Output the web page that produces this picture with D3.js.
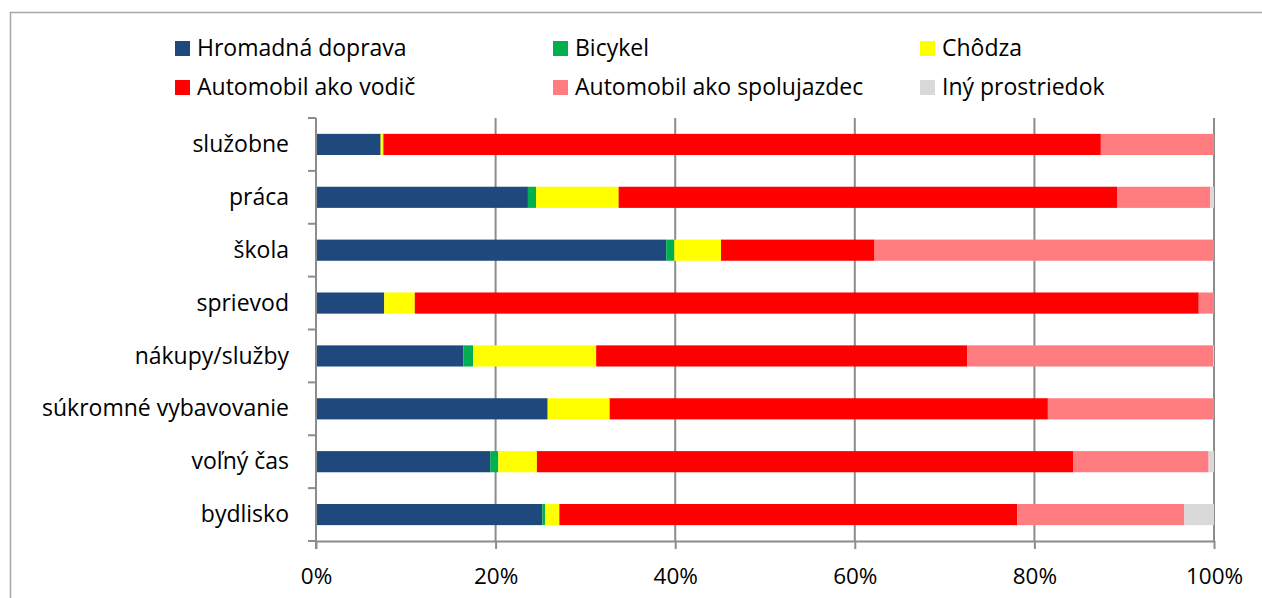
<!DOCTYPE html>
<html>
<head>
<meta charset="utf-8">
<script src="https://cdn.jsdelivr.net/npm/d3@7"></script>
<style>
  html, body { margin: 0; padding: 0; background: #fff; }
  svg { display: block; font-family: "Open Sans", Lato, sans-serif; }
</style>
</head>
<body>
<svg id="chart" width="1262" height="598"></svg>
<script>
// Trip purposes (top to bottom) and modal split shares in percent
const categories = ["služobne", "práca", "škola", "sprievod", "nákupy/služby", "súkromné vybavovanie", "voľný čas", "bydlisko"];
const seriesNames = ["Hromadná doprava", "Bicykel", "Chôdza", "Automobil ako vodič", "Automobil ako spolujazdec", "Iný prostriedok"];
const seriesColors = ["#1F497D", "#00B050", "#FFFF00", "#FF0000", "#FF7C80", "#D9D9D9"];

const hromadna    = [7.2, 23.6, 39.0, 7.6, 16.4, 25.8, 19.4, 25.2];
const bicykel     = [0.0, 0.9, 0.9, 0.0, 1.1, 0.0, 0.9, 0.3];
const chodza      = [0.3, 9.2, 5.2, 3.4, 13.7, 6.9, 4.3, 1.6];
const vodic       = [79.9, 55.5, 17.1, 87.3, 41.3, 48.8, 59.7, 51.0];
const spolujazdec = [12.6, 10.4, 37.8, 1.7, 27.4, 18.5, 15.1, 18.6];
const iny         = [0.0, 0.4, 0.0, 0.0, 0.1, 0.0, 0.6, 3.3];

const xTicks = [0, 20, 40, 60, 80, 100];
const xTickLabels = ["0%", "20%", "40%", "60%", "80%", "100%"];

const seriesValues = [hromadna, bicykel, chodza, vodic, spolujazdec, iny];
const rows = categories.map((c, i) => {
  const r = { cat: c };
  seriesNames.forEach((s, j) => { r[s] = seriesValues[j][i]; });
  return r;
});

const svg = d3.select("#chart");
const plot = { left: 316, right: 1214, top: 118, bottom: 541 };
const axisColor = "#8C8C8C";
const fontSize = 23;

// chart frame
svg.append("rect")
  .attr("x", 10.5).attr("y", 12.5)
  .attr("width", 1270).attr("height", 600)
  .attr("fill", "#fff").attr("stroke", "#A6A6A6").attr("stroke-width", 1.5);

const x = d3.scaleLinear().domain([0, 100]).range([plot.left, plot.right]);
const y = d3.scaleBand().domain(categories).range([plot.top, plot.bottom])
  .paddingInner(0.6).paddingOuter(0.3);

// vertical gridlines
svg.append("g").selectAll("line")
  .data(xTicks.filter(t => t > 0))
  .join("line")
  .attr("x1", d => x(d)).attr("x2", d => x(d))
  .attr("y1", plot.top).attr("y2", plot.bottom)
  .attr("stroke", axisColor).attr("stroke-width", 2);

// stacked bars
const stack = d3.stack().keys(seriesNames);
const layers = stack(rows);
svg.append("g").selectAll("g")
  .data(layers)
  .join("g")
  .attr("fill", (d, i) => seriesColors[i])
  .selectAll("rect")
  .data(d => d)
  .join("rect")
  .attr("x", d => x(d[0]))
  .attr("width", d => Math.max(0, x(d[1]) - x(d[0])))
  .attr("y", d => y(d.data.cat))
  .attr("height", y.bandwidth());

// x axis
const xAxis = svg.append("g")
  .attr("transform", `translate(0,${plot.bottom})`)
  .call(d3.axisBottom(x).tickValues(xTicks).tickFormat((d, i) => xTickLabels[i]).tickSize(8).tickSizeOuter(0));
xAxis.select(".domain").attr("stroke", axisColor).attr("stroke-width", 2);
xAxis.selectAll(".tick line").attr("stroke", axisColor).attr("stroke-width", 2);
xAxis.selectAll(".tick text")
  .attr("font-size", 22.5).attr("fill", "#000").attr("font-family", "'Open Sans', sans-serif")
  .attr("dy", 0).attr("y", 43);

// y axis with category boundary ticks
const yAxisG = svg.append("g");
yAxisG.append("line")
  .attr("x1", plot.left).attr("x2", plot.left)
  .attr("y1", plot.top).attr("y2", plot.bottom + 8)
  .attr("stroke", axisColor).attr("stroke-width", 2);
const boundaries = categories.map(c => y(c) - y.step() * y.paddingInner() / 2).concat([plot.bottom]);
yAxisG.selectAll("line.tk")
  .data(boundaries)
  .join("line").attr("class", "tk")
  .attr("x1", plot.left - 8).attr("x2", plot.left)
  .attr("y1", d => d).attr("y2", d => d)
  .attr("stroke", axisColor).attr("stroke-width", 2);
yAxisG.selectAll("text")
  .data(categories)
  .join("text")
  .attr("x", 289)
  .attr("y", d => y(d) + y.bandwidth() / 2)
  .attr("dy", "0.33em")
  .attr("text-anchor", "end")
  .attr("font-size", fontSize)
  .attr("fill", "#000")
  .text(d => d);

// legend
const legendCols = [175, 553, 920];
const legendRows = [48.5, 87.5];
const legend = svg.append("g");
seriesNames.forEach((s, i) => {
  const lx = legendCols[i % 3], ly = legendRows[Math.floor(i / 3)];
  legend.append("rect")
    .attr("x", lx).attr("y", ly - 7.5)
    .attr("width", 15).attr("height", 15)
    .attr("fill", seriesColors[i]);
  legend.append("text")
    .attr("x", lx + 22).attr("y", ly + 7)
    .attr("font-size", fontSize)
    .attr("fill", "#000")
    .text(s);
});
</script>
</body>
</html>
